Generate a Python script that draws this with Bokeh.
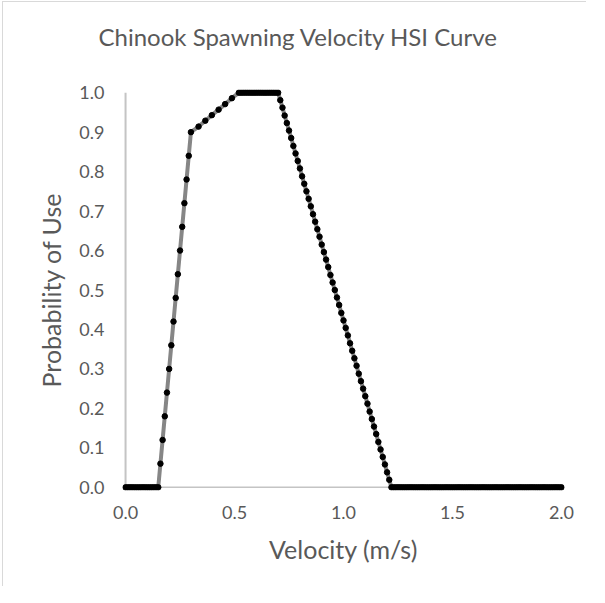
from bokeh.plotting import figure
from bokeh.models import Range1d, FixedTicker, PrintfTickFormatter, Title
from bokeh.embed import file_html
from bokeh.resources import INLINE

title_text = "Chinook Spawning Velocity HSI Curve"
x_label = "Velocity (m/s)"
y_label = "Probability of Use"
x_ticks = [0.0, 0.5, 1.0, 1.5, 2.0]
y_ticks = [0.0, 0.1, 0.2, 0.3, 0.4, 0.5, 0.6, 0.7, 0.8, 0.9, 1.0]

velocity = [
    0.00, 0.01, 0.02, 0.03, 0.04, 0.05, 0.06, 0.07, 0.08, 0.09,
    0.10, 0.11, 0.12, 0.13, 0.14, 0.15, 0.16, 0.17, 0.18, 0.19,
    0.20, 0.21, 0.22, 0.23, 0.24, 0.25, 0.26, 0.27, 0.28, 0.29,
    0.30, 0.335, 0.366, 0.396, 0.427, 0.457, 0.488,
    0.52, 0.53, 0.54, 0.55, 0.56, 0.57, 0.58, 0.59,
    0.60, 0.61, 0.62, 0.63, 0.64, 0.65, 0.66, 0.67, 0.68, 0.69,
    0.70, 0.71, 0.72, 0.73, 0.74, 0.75, 0.76, 0.77, 0.78, 0.79,
    0.80, 0.81, 0.82, 0.83, 0.84, 0.85, 0.86, 0.87, 0.88, 0.89,
    0.90, 0.91, 0.92, 0.93, 0.94, 0.95, 0.96, 0.97, 0.98, 0.99,
    1.00, 1.01, 1.02, 1.03, 1.04, 1.05, 1.06, 1.07, 1.08, 1.09,
    1.10, 1.11, 1.12, 1.13, 1.14, 1.15, 1.16, 1.17, 1.18, 1.19,
    1.20, 1.21, 1.22, 1.23, 1.24, 1.25, 1.26, 1.27, 1.28, 1.29,
    1.30, 1.31, 1.32, 1.33, 1.34, 1.35, 1.36, 1.37, 1.38, 1.39,
    1.40, 1.41, 1.42, 1.43, 1.44, 1.45, 1.46, 1.47, 1.48, 1.49,
    1.50, 1.51, 1.52, 1.53, 1.54, 1.55, 1.56, 1.57, 1.58, 1.59,
    1.60, 1.61, 1.62, 1.63, 1.64, 1.65, 1.66, 1.67, 1.68, 1.69,
    1.70, 1.71, 1.72, 1.73, 1.74, 1.75, 1.76, 1.77, 1.78, 1.79,
    1.80, 1.81, 1.82, 1.83, 1.84, 1.85, 1.86, 1.87, 1.88, 1.89,
    1.90, 1.91, 1.92, 1.93, 1.94, 1.95, 1.96, 1.97, 1.98, 1.99,
    2.00,
]

probability = [
    0.0, 0.0, 0.0, 0.0, 0.0, 0.0, 0.0, 0.0, 0.0, 0.0,
    0.0, 0.0, 0.0, 0.0, 0.0, 0.0, 0.06, 0.12, 0.18, 0.24,
    0.30, 0.36, 0.42, 0.48, 0.54, 0.60, 0.66, 0.72, 0.78, 0.84,
    0.90, 0.914, 0.929, 0.943, 0.957, 0.971, 0.986,
    1.0, 1.0, 1.0, 1.0, 1.0, 1.0, 1.0, 1.0,
    1.0, 1.0, 1.0, 1.0, 1.0, 1.0, 1.0, 1.0, 1.0, 1.0,
    1.0, 0.981, 0.962, 0.942, 0.923, 0.904, 0.885, 0.865, 0.846, 0.827,
    0.808, 0.788, 0.769, 0.750, 0.731, 0.712, 0.692, 0.673, 0.654, 0.635,
    0.615, 0.596, 0.577, 0.558, 0.538, 0.519, 0.500, 0.481, 0.462, 0.442,
    0.423, 0.404, 0.385, 0.365, 0.346, 0.327, 0.308, 0.288, 0.269, 0.250,
    0.231, 0.212, 0.192, 0.173, 0.154, 0.135, 0.115, 0.096, 0.077, 0.058,
    0.038, 0.019, 0.0, 0.0, 0.0, 0.0, 0.0, 0.0, 0.0, 0.0,
    0.0, 0.0, 0.0, 0.0, 0.0, 0.0, 0.0, 0.0, 0.0, 0.0,
    0.0, 0.0, 0.0, 0.0, 0.0, 0.0, 0.0, 0.0, 0.0, 0.0,
    0.0, 0.0, 0.0, 0.0, 0.0, 0.0, 0.0, 0.0, 0.0, 0.0,
    0.0, 0.0, 0.0, 0.0, 0.0, 0.0, 0.0, 0.0, 0.0, 0.0,
    0.0, 0.0, 0.0, 0.0, 0.0, 0.0, 0.0, 0.0, 0.0, 0.0,
    0.0, 0.0, 0.0, 0.0, 0.0, 0.0, 0.0, 0.0, 0.0, 0.0,
    0.0, 0.0, 0.0, 0.0, 0.0, 0.0, 0.0, 0.0, 0.0, 0.0,
    0.0,
]

FONT = "Lato"
TXT = "#595959"
AXIS_GRAY = "#c4c4c4"

p = figure(
    width=584, height=585,
    output_backend="svg", toolbar_location=None,
    x_range=Range1d(-0.014, 2.014), y_range=Range1d(-0.008, 1.008),
    min_border_left=119, min_border_right=23,
    min_border_top=87, min_border_bottom=97,
    background_fill_color="white", border_fill_color="white",
)
p.styles = {"margin-left": "2px", "margin-top": "1px",
            "border-left": "1px solid #d9d9d9", "border-top": "1px solid #d9d9d9"}
p.outline_line_color = None
p.xgrid.visible = False
p.ygrid.visible = False

# spacer between plot area and chart title (first "above" item sits next to the frame)
p.add_layout(Title(text=" ", text_font_size="1px", standoff=34), "above")
# chart title
p.add_layout(Title(text=title_text, align="left", offset=-24, standoff=4,
                   vertical_align="bottom", text_font=FONT, text_font_size="24px",
                   text_font_style="normal", text_color=TXT), "above")

for ax in (p.xaxis, p.yaxis):
    ax.axis_line_color = None
    ax.major_tick_line_color = None
    ax.minor_tick_line_color = None
    ax.major_tick_out = 0
    ax.major_tick_in = 0
    ax.minor_tick_out = 0
    ax.minor_tick_in = 0
    ax.major_label_text_font = FONT
    ax.major_label_text_font_size = "18px"
    ax.major_label_text_color = TXT
    ax.axis_label_text_font = FONT
    ax.axis_label_text_font_size = "25px"
    ax.axis_label_text_font_style = "normal"
    ax.axis_label_text_color = TXT
    ax.formatter = PrintfTickFormatter(format="%.1f")

p.xaxis.ticker = FixedTicker(ticks=x_ticks)
p.yaxis.ticker = FixedTicker(ticks=y_ticks)
p.xaxis.axis_label = x_label
p.yaxis.axis_label = y_label
p.xaxis.major_label_standoff = 15
p.yaxis.major_label_standoff = 18
p.xaxis.axis_label_standoff = 12
p.yaxis.axis_label_standoff = 10

# axis lines drawn at the data origin
p.segment(x0=[x_ticks[0]], y0=[y_ticks[0]], x1=[x_ticks[0]], y1=[y_ticks[-1]],
          line_color=AXIS_GRAY, line_width=2)
p.segment(x0=[x_ticks[0]], y0=[y_ticks[0]], x1=[x_ticks[-1]], y1=[y_ticks[0]],
          line_color=AXIS_GRAY, line_width=1.5)

p.line(velocity, probability, line_color="#868686", line_width=4)
p.scatter(velocity, probability, size=5.5, color="black")

open("out.html", "w").write(file_html(p, INLINE))
